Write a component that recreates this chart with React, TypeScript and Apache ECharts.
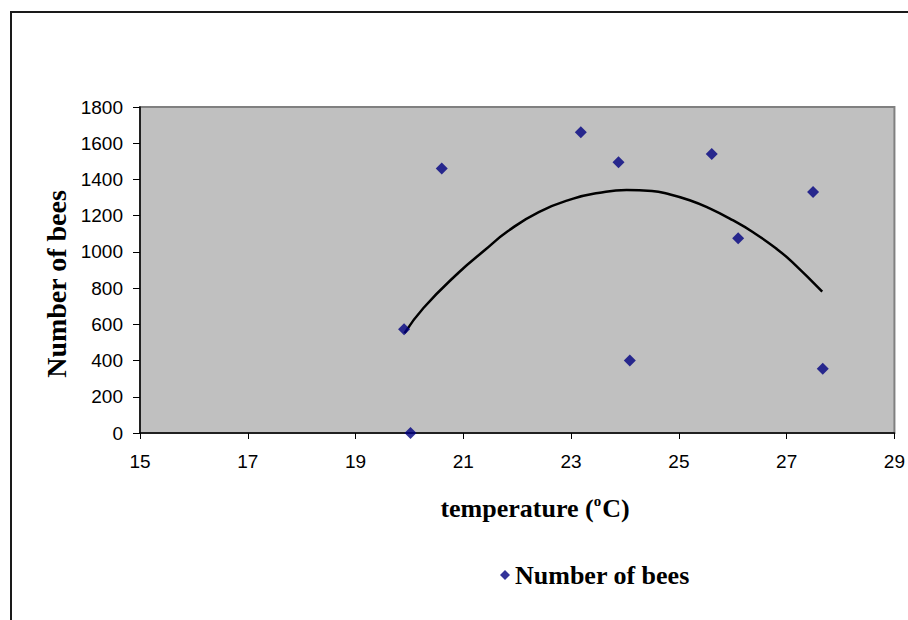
import React, { useEffect, useRef } from "react";
import * as echarts from "echarts";

const seriesName = "Number of bees";
const xTitle = "temperature (ºC)";
const yTitle = "Number of bees";

// observed data: [temperature, number of bees]
const temperatures = [19.9, 20.02, 20.6, 23.18, 23.88, 24.09, 25.61, 26.1, 27.49, 27.67];
const beeCounts = [573, 0, 1460, 1660, 1495, 400, 1540, 1075, 1330, 355];

// polynomial trendline
const trendX = [19.91, 20.26, 20.91, 21.4, 21.83, 22.4, 23.04, 23.5, 24.03, 24.5, 24.77, 25.2, 25.57, 26.0, 26.37, 26.8, 27.1, 27.66];
const trendY = [551, 690, 885, 1010, 1115, 1220, 1294, 1325, 1342, 1336, 1322, 1285, 1240, 1175, 1110, 1020, 945, 780];

const xMin = 15;
const xMax = 29;
const xStep = 2;
const yMin = 0;
const yMax = 1800;
const yStep = 200;

export default function App() {
  const ref = useRef<HTMLDivElement>(null);

  useEffect(() => {
    if (!ref.current) return;
    const chart = echarts.init(ref.current, null, { renderer: "svg" });
    const sans = "'Liberation Sans', Arial, sans-serif";
    const serif = "'Liberation Serif', 'Times New Roman', serif";
    chart.setOption({
      animation: false,
      backgroundColor: "#ffffff",
      grid: {
        left: 140,
        top: 107,
        right: 9,
        bottom: 187,
        show: true,
        backgroundColor: "#C0C0C0",
        borderColor: "#808080",
        borderWidth: 2,
      },
      xAxis: {
        type: "value",
        min: xMin,
        max: xMax,
        interval: xStep,
        axisLine: { show: true, onZero: false, lineStyle: { color: "#000", width: 1.5 } },
        axisTick: { show: true, length: 6, lineStyle: { color: "#000" } },
        splitLine: { show: false },
        axisLabel: {
          color: "#000",
          fontFamily: sans,
          fontSize: 19,
          margin: 19,
          showMaxLabel: true,
          formatter: (v: number) => String(v),
        },
      },
      yAxis: {
        type: "value",
        min: yMin,
        max: yMax,
        interval: yStep,
        axisLine: { show: true, onZero: false, lineStyle: { color: "#000", width: 1.5 } },
        axisTick: { show: true, length: 7, lineStyle: { color: "#000" } },
        splitLine: { show: false },
        axisLabel: {
          color: "#000",
          fontFamily: sans,
          fontSize: 19,
          margin: 17,
          formatter: (v: number) => String(v),
        },
      },
      legend: {
        data: [{ name: seriesName, icon: "diamond" }],
        left: 495,
        top: 557,
        itemWidth: 10,
        itemHeight: 10,
        textStyle: { color: "#000", fontFamily: serif, fontWeight: "bold", fontSize: 26 },
      },
      graphic: [
        {
          type: "rect",
          z: -10,
          silent: true,
          shape: { x: 11, y: 12, width: 1200, height: 1200 },
          style: { fill: "none", stroke: "#1a1a1a", lineWidth: 2 },
        },
        {
          type: "text",
          x: 56,
          y: 284,
          rotation: Math.PI / 2,
          style: {
            text: yTitle,
            fill: "#000",
            font: `bold 28px ${serif}`,
            textAlign: "center",
            textVerticalAlign: "middle",
          },
        },
        {
          type: "text",
          x: 535,
          y: 508,
          style: {
            text: "{a|temperature (}{s|o}{a|C)}",
            textAlign: "center",
            textVerticalAlign: "middle",
            rich: {
              a: { fontFamily: serif, fontWeight: "bold", fontSize: 26, fill: "#000", lineHeight: 30 },
              s: { fontFamily: serif, fontWeight: "bold", fontSize: 15, fill: "#000", verticalAlign: "top", lineHeight: 30, padding: [0, 1, 0, 0] },
            },
          },
        },
      ],
      series: [
        {
          name: seriesName,
          type: "scatter",
          symbol: "diamond",
          symbolSize: 12,
          itemStyle: { color: "#000080" },
          z: 5,
          clip: false,
          data: temperatures.map((t, i) => [t, beeCounts[i]]),
        },
        {
          name: "trend",
          type: "line",
          smooth: true,
          showSymbol: false,
          symbol: "none",
          lineStyle: { color: "#000", width: 2.5 },
          z: 4,
          data: trendX.map((t, i) => [t, trendY[i]]),
        },
      ],
    });
    return () => chart.dispose();
  }, []);

  return (
    <div
      ref={ref}
      aria-label={xTitle}
      style={{ position: "absolute", left: 0, top: 0, width: 908, height: 620 }}
    />
  );
}
